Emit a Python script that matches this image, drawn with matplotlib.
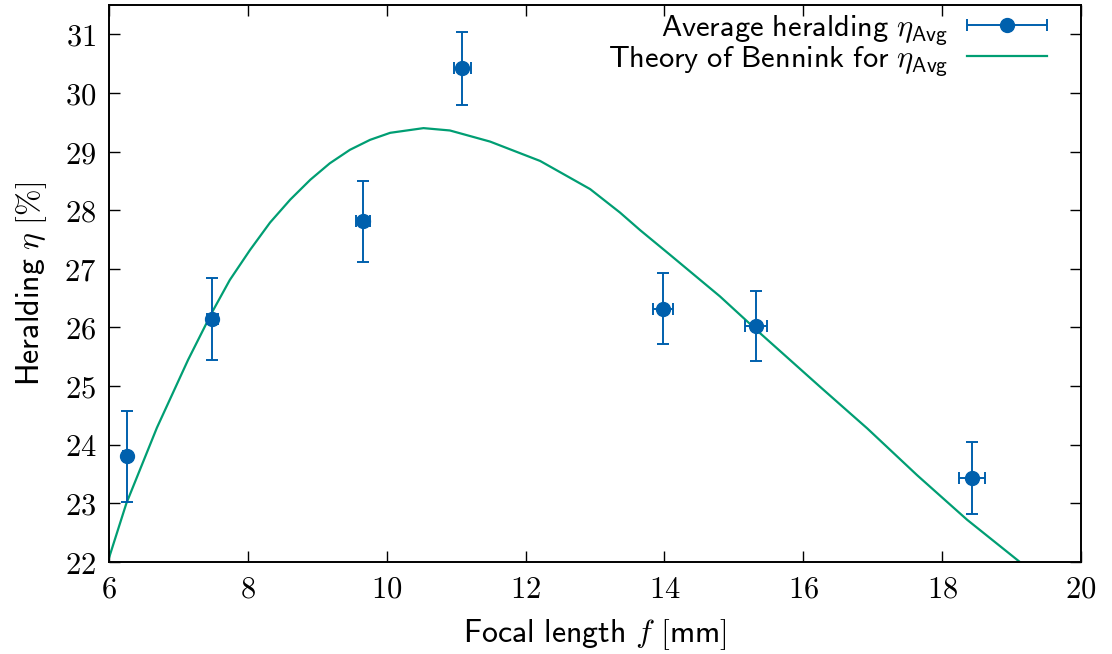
import numpy as np
import matplotlib
matplotlib.use("Agg")
import matplotlib.pyplot as plt
from matplotlib.legend_handler import HandlerErrorbar

plt.rcParams['mathtext.fontset'] = 'cm'

# Measured data
focal = [6.255, 7.49, 9.66, 11.09, 13.98, 15.32, 18.43]
eta = [23.80, 26.15, 27.81, 30.42, 26.32, 26.02, 23.43]
eta_err = [0.77, 0.70, 0.69, 0.62, 0.61, 0.60, 0.61]
focal_err = [0.05, 0.08, 0.10, 0.12, 0.15, 0.16, 0.19]

# Theory curve
theory_f = [6.0, 6.25, 6.69, 7.14, 7.48, 7.74, 8.03, 8.32, 8.61, 8.90, 9.18,
            9.47, 9.76, 10.05, 10.53, 10.91, 11.49, 12.21, 12.93, 13.36,
            13.65, 14.08, 14.80, 15.38, 16.24, 16.68, 16.92, 17.64, 18.36,
            19.13]
theory_eta = [22.07, 23.0, 24.29, 25.45, 26.25, 26.81, 27.32, 27.79, 28.18,
              28.52, 28.80, 29.03, 29.20, 29.32, 29.40, 29.36, 29.17, 28.84,
              28.36, 27.96, 27.66, 27.24, 26.53, 25.90, 24.99, 24.53, 24.28,
              23.48, 22.72, 21.99]

xticks = [6, 8, 10, 12, 14, 16, 18, 20]
yticks = [22, 23, 24, 25, 26, 27, 28, 29, 30, 31]

blue = '#0060ad'
green = '#009e73'
fs = 22

fig = plt.figure(figsize=(11.12, 6.54), dpi=100)
ax = fig.add_axes([109/1112, 1 - 562/654, (1081-109)/1112, (562-5)/654])

ax.errorbar(focal, eta, yerr=eta_err, xerr=focal_err, fmt='o', color=blue,
            ms=10, elinewidth=1.4, capsize=4.5, capthick=1.4, zorder=3)
ax.plot(theory_f, theory_eta, color=green, lw=1.6, zorder=2)

# legend proxies
eb_proxy = ax.errorbar([np.nan], [np.nan], xerr=[0.1], fmt='o', color=blue,
                       ms=10, elinewidth=1.4, capsize=4.5, capthick=1.4)
ln_proxy, = ax.plot([np.nan], [np.nan], color=green, lw=1.6)

ax.set_xlim(6, 20)
ax.set_ylim(22, 31.5)
ax.set_xticks(xticks)
ax.set_yticks(yticks)
ax.set_xticklabels([f'${t}$' for t in xticks], fontsize=fs)
ax.set_yticklabels([f'${t}$' for t in yticks], fontsize=fs)
ax.tick_params(direction='in', length=8, width=1.0, top=True, right=True,
               pad=9)
for s in ax.spines.values():
    s.set_linewidth(1.4)

ax.set_xlabel(r'$\mathsf{Focal\ length}\ f\ [\mathsf{mm}]$', fontsize=fs+1,
              labelpad=10)
ax.set_ylabel(r'$\mathsf{Heralding}\ \eta\ [\%]$', fontsize=fs+1, labelpad=11)

leg = ax.legend([eb_proxy, ln_proxy],
                [r'$\mathsf{Average\ heralding}\ \eta_{\mathsf{Avg}}$',
                 r'$\mathsf{Theory\ of\ Bennink\ for}\ \eta_{\mathsf{Avg}}$'],
                loc='upper right', bbox_to_anchor=(1 - 34/972, 1 - 8/557),
                frameon=False, markerfirst=False, fontsize=fs,
                handlelength=2.62, handletextpad=0.62, labelspacing=-0.1,
                borderaxespad=0.0, borderpad=0.0,
                handler_map={type(eb_proxy): HandlerErrorbar(xerr_size=1.31)})

fig.savefig('out.png', dpi=100)
